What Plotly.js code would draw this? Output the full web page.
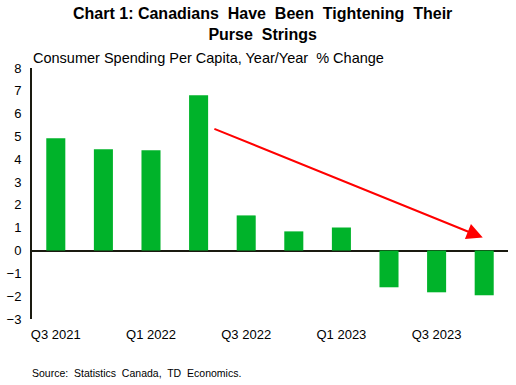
<!DOCTYPE html>
<html><head><meta charset="utf-8">
<script src="https://cdn.plot.ly/plotly-3.0.1.min.js"></script>
<style>html,body{margin:0;padding:0;background:#fff}#chart{width:516px;height:385px}</style>
</head><body><div id="chart"></div>
<script>
const quarters = ["Q3 2021","Q4 2021","Q1 2022","Q2 2022","Q3 2022","Q4 2022","Q1 2023","Q2 2023","Q3 2023","Q4 2023"];
const spending = [4.92, 4.44, 4.40, 6.81, 1.54, 0.84, 1.01, -1.61, -1.83, -1.96];
const tickLabels = ["Q3 2021","Q1 2022","Q3 2022","Q1 2023","Q3 2023"];
const yTicks = [-3,-2,-1,0,1,2,3,4,5,6,7,8];

const trace = {type:'bar', x: quarters, y: spending, marker:{color:'#00B32A'}, width:0.4, hoverinfo:'x+y'};
const layout = {
  width:516, height:385,
  margin:{l:32, r:8, t:68, b:66},
  paper_bgcolor:'#fff', plot_bgcolor:'#fff',
  font:{family:'Arial, "Liberation Sans", sans-serif', color:'#000'},
  showlegend:false,
  xaxis:{type:'category', tickvals: tickLabels, ticktext: tickLabels, showgrid:false, showline:false, zeroline:false, ticks:'', tickfont:{size:13}, range:[-0.5, 9.5], ticklabelstandoff:6},
  yaxis:{range:[-3,8], tickvals:yTicks, showgrid:false, showline:true, linecolor:'#1a1a10', linewidth:2, zeroline:true, zerolinecolor:'#1a1a10', zerolinewidth:2, ticks:'', tickfont:{size:13}, ticklabelstandoff:6},
  annotations:[
    {xref:'paper', yref:'paper', x:0.485, y:1.258, xanchor:'center', yanchor:'top', showarrow:false, text:'<b>Chart 1: Canadians&nbsp; Have&nbsp; Been&nbsp; Tightening&nbsp; Their<br>Purse&nbsp; Strings</b>', font:{size:16}},
    {xref:'paper', yref:'paper', x:-0.002, y:1.0, xanchor:'left', yanchor:'bottom', showarrow:false, text:'Consumer Spending Per Capita, Year/Year&nbsp; % Change', font:{size:14.5}},
    {xref:'paper', yref:'paper', x:-0.005, y:-0.183, xanchor:'left', yanchor:'top', showarrow:false, text:'Source:&nbsp; Statistics&nbsp; Canada,&nbsp; TD&nbsp; Economics.', font:{size:10.5}},
    {x:8.97, y:0.57, ax:3.30, ay:5.36, xref:'x', yref:'y', axref:'x', ayref:'y', showarrow:true, arrowcolor:'#ff0000', arrowwidth:2, arrowhead:2, arrowsize:1.6, text:''}
  ]
};
Plotly.newPlot('chart', [trace], layout, {displayModeBar:false, staticPlot:true});
</script></body></html>
